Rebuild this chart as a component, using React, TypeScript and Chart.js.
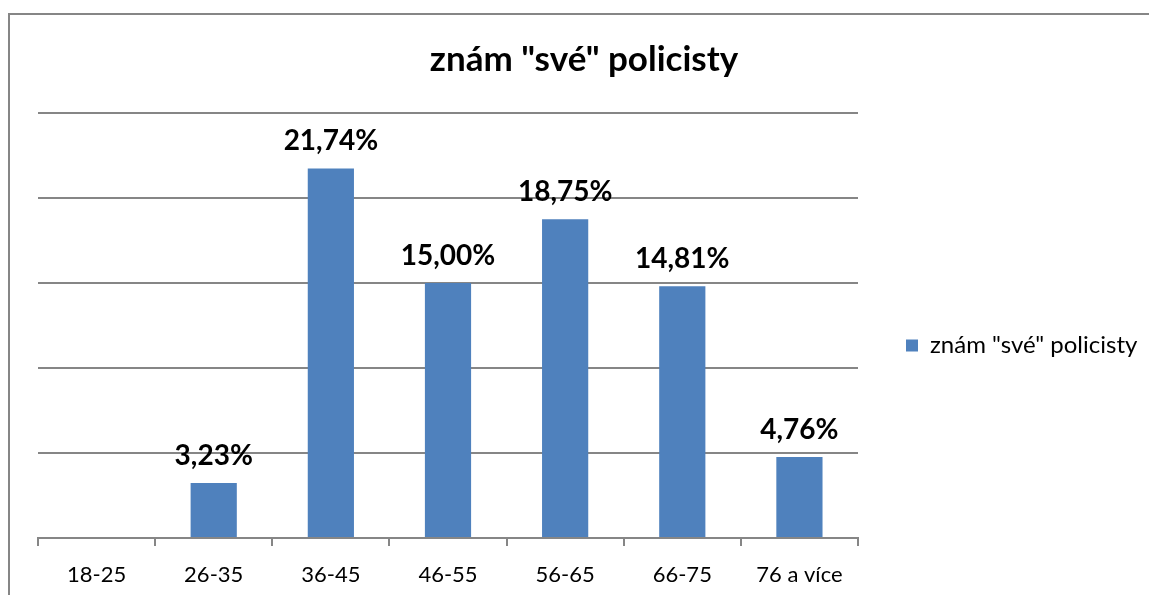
import React, { useEffect, useRef } from "react";
import { Chart, registerables } from "chart.js";

Chart.register(...registerables);

const categories = ["18-25", "26-35", "36-45", "46-55", "56-65", "66-75", "76 a více"];
const values = [0, 3.23, 21.74, 15.0, 18.75, 14.81, 4.76];
const showLabel = [false, true, true, true, true, true, true];
const seriesName = 'znám "své" policisty';
const titleText = 'znám "své" policisty';
const yMax = 25;
const yStep = 5;

const FONT = "Lato, 'Open Sans', sans-serif";

const fmt = (v: number) => v.toFixed(2).replace(".", ",") + "%";

const labelPlugin = {
  id: "barLabels",
  beforeDraw(chart: any) {
    // let the legend text run to the canvas edge without being clipped
    if (chart.legend) chart.legend.right = chart.width;
  },
  afterDatasetsDraw(chart: any) {
    const ctx = chart.ctx;
    const meta = chart.getDatasetMeta(0);
    ctx.save();
    ctx.font = `bold 28px ${FONT}`;
    ctx.fillStyle = "#000";
    ctx.textAlign = "center";
    ctx.textBaseline = "middle";
    meta.data.forEach((bar: any, i: number) => {
      if (!showLabel[i]) return;
      ctx.fillText(fmt(values[i]), bar.x, bar.y - 27);
    });
    ctx.restore();
  },
};

export default function App() {
  const ref = useRef<HTMLCanvasElement>(null);
  useEffect(() => {
    if (!ref.current) return;
    const chart = new Chart(ref.current, {
      type: "bar",
      data: {
        labels: categories,
        datasets: [
          {
            label: seriesName,
            data: values,
            backgroundColor: "#4F81BD",
            borderWidth: 0,
            barPercentage: 0.8,
            categoryPercentage: 0.493,
          },
        ],
      },
      options: {
        responsive: false,
        animation: false,
        layout: { padding: { left: 36, right: 17, top: 0, bottom: 0 } },
        plugins: {
          title: {
            display: true,
            text: titleText,
            color: "#000",
            font: { family: FONT, size: 35, weight: "bold", lineHeight: 1.2 },
            padding: { top: 39, bottom: 32 },
          },
          legend: {
            position: "right",
            fullSize: false,
            title: {
              display: true,
              text: " ",
              font: { family: FONT, size: 10, lineHeight: 1.2 },
              padding: { top: 14, bottom: 14 },
            },
            labels: {
              boxWidth: 12,
              boxHeight: 12,
              color: "#000",
              font: { family: FONT, size: 24 },
              padding: 48,
            },
          },
          tooltip: { enabled: false },
        },
        scales: {
          x: {
            afterFit: (scale: any) => {
              scale.height = 57;
            },
            grid: {
              display: true,
              drawOnChartArea: false,
              drawTicks: true,
              tickLength: 8,
              color: "#868686",
              lineWidth: 2,
              offset: true,
            },
            border: { display: true, color: "#868686", width: 2 },
            ticks: {
              color: "#000",
              font: { family: FONT, size: 22 },
              padding: 16,
              maxRotation: 0,
            },
          },
          y: {
            min: 0,
            max: yMax,
            afterFit: (scale: any) => {
              scale.width = 2;
            },
            ticks: { display: false, stepSize: yStep },
            grid: { color: "#868686", lineWidth: 2, drawTicks: false },
            border: { display: false },
          },
        },
      },
      plugins: [labelPlugin],
    });
    return () => chart.destroy();
  }, []);

  return (
    <div style={{ position: "fixed", left: 0, top: 0, width: 1149, height: 595, overflow: "hidden", background: "#fff" }}>
      <div
        style={{
          position: "absolute",
          left: 8,
          top: 13,
          width: 1200,
          height: 700,
          border: "2px solid #868686",
          boxSizing: "border-box",
        }}
      />
      <canvas ref={ref} width={1149} height={595} style={{ position: "absolute", left: 0, top: 0 }} />
    </div>
  );
}
